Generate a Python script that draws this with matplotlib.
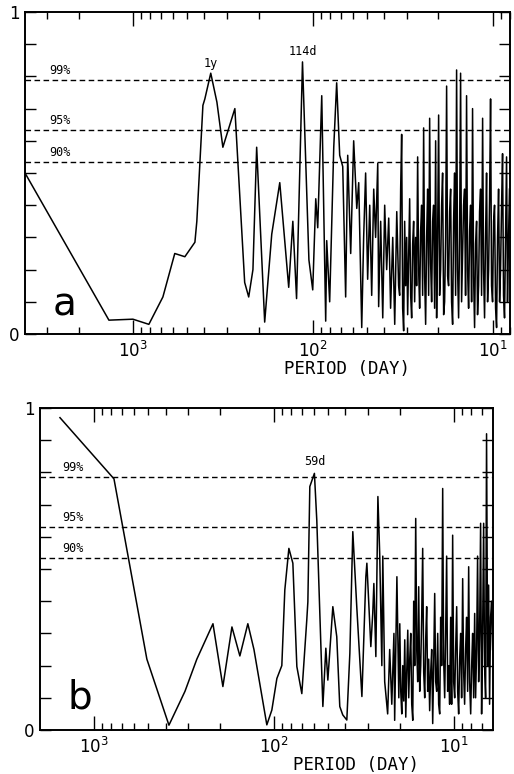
import matplotlib
matplotlib.use('Agg')
import matplotlib.pyplot as plt
import numpy as np
from matplotlib.ticker import LogLocator, NullFormatter

# panel a: period (day) and normalised power
period_a = [3980, 1359, 1000, 815, 681, 585, 514, 452, 441, 408, 398, 369, 341, 316, 271,
            239, 227, 215, 205, 185, 169, 152.5, 136, 129, 123, 114, 105, 100, 96.2, 93.8,
            89.1, 84.7, 83.6, 80.5, 76.4, 73.6,
            70.8, 68.1, 65.6, 63.9, 61.5, 59.2, 56.9, 55.5, 53.4, 52.1, 50.8, 49.5, 48.2, 47.0,
            45.8, 44.7, 43.5, 43.0, 41.9, 40.8, 39.8, 38.8, 37.8, 36.9, 35.9, 35.0, 34.1, 33.3,
            32.86, 32.44, 32.03, 31.62, 31.22, 30.82, 30.43, 30.04, 29.66, 29.28,
            28.91, 28.54, 28.18, 27.82, 27.47, 27.12, 26.78, 26.44, 26.10, 25.77,
            25.44, 25.12, 24.80, 24.48, 24.17, 23.86, 23.56, 23.26, 22.96, 22.67,
            22.38, 22.10, 21.82, 21.54, 21.27, 21.00, 20.73, 20.47, 20.21, 19.95,
            19.70, 19.45, 19.20, 18.96, 18.71, 18.48, 18.24, 18.01, 17.78, 17.56,
            17.33, 17.11, 16.90, 16.68, 16.47, 16.26, 16.05, 15.85, 15.65, 15.45,
            15.25, 15.06, 14.87, 14.68, 14.49, 14.31, 14.13, 13.95, 13.77, 13.59,
            13.42, 13.25, 13.08, 12.92, 12.75, 12.59, 12.43, 12.27, 12.12, 11.96,
            11.81, 11.66, 11.51, 11.36, 11.22, 11.08, 10.94, 10.80, 10.66, 10.52,
            10.39, 10.26, 10.13, 10.00, 9.87, 9.75, 9.62, 9.50, 9.38, 9.26,
            9.14, 9.03, 8.91, 8.80, 8.69, 8.58, 8.47, 8.36, 8.26, 8.15,
            8.05]
power_a = [0.50, 0.043, 0.046, 0.03, 0.115, 0.25, 0.24, 0.285, 0.35, 0.71, 0.73, 0.81, 0.72, 0.58, 0.70,
           0.16, 0.115, 0.20, 0.58, 0.037, 0.31, 0.47, 0.145, 0.35, 0.11, 0.845, 0.23, 0.137, 0.42, 0.33,
           0.74, 0.04, 0.29, 0.10, 0.58, 0.78,
           0.555, 0.52, 0.115, 0.555, 0.25, 0.60, 0.39, 0.47, 0.02, 0.30, 0.50, 0.17, 0.40, 0.12,
           0.45, 0.30, 0.53, 0.085, 0.35, 0.05, 0.40, 0.20, 0.36, 0.08, 0.30, 0.03, 0.38, 0.15,
           0.12, 0.45, 0.62, 0.08, 0.01, 0.35, 0.15, 0.30, 0.06, 0.25,
           0.42, 0.12, 0.05, 0.28, 0.35, 0.10, 0.30, 0.15, 0.55, 0.20,
           0.08, 0.32, 0.40, 0.12, 0.64, 0.18, 0.03, 0.30, 0.45, 0.12,
           0.67, 0.22, 0.10, 0.35, 0.40, 0.08, 0.60, 0.05, 0.30, 0.68,
           0.12, 0.20, 0.40, 0.50, 0.06, 0.10, 0.30, 0.77, 0.18, 0.15,
           0.38, 0.45, 0.10, 0.03, 0.35, 0.50, 0.12, 0.82, 0.20, 0.05,
           0.30, 0.81, 0.10, 0.25, 0.40, 0.45, 0.12, 0.74, 0.20, 0.08,
           0.32, 0.40, 0.10, 0.70, 0.18, 0.02, 0.28, 0.35, 0.06, 0.15,
           0.38, 0.45, 0.12, 0.67, 0.20, 0.05, 0.30, 0.50, 0.10, 0.20,
           0.42, 0.73, 0.15, 0.10, 0.35, 0.40, 0.08, 0.02, 0.30, 0.45,
           0.10, 0.20, 0.40, 0.56, 0.12, 0.05, 0.30, 0.55, 0.10, 0.30,
           0.45]

# panel b
period_b = [1545, 774, 508, 383, 312, 268, 218, 192, 171, 154.5, 139.5, 129, 109.4, 102.6, 96.2,
            90.3, 86.9, 82.5, 78.4, 74.5, 69.9, 65.6, 64.7, 63.1, 59.5, 57.7, 53.4, 51.4, 50.1,
            47.0, 44.7, 43.0, 41.4, 39.3, 37.8, 36.4, 34.6, 32.4, 30.8, 30.4, 28.9, 28.2, 27.8,
            27.1, 26.4, 25.8,
            25.1, 24.8, 24.2, 23.3, 22.7, 22.1, 21.5, 21.3, 20.7, 20.2,
            19.95, 19.70, 19.45, 19.20, 18.96, 18.72, 18.48, 18.25, 18.01, 17.79,
            17.56, 17.34, 17.12, 16.90, 16.69, 16.48, 16.27, 16.06, 15.86, 15.66,
            15.46, 15.26, 15.07, 14.88, 14.69, 14.50, 14.32, 14.14, 13.96, 13.78,
            13.61, 13.43, 13.26, 13.09, 12.93, 12.76, 12.60, 12.44, 12.28, 12.13,
            11.97, 11.82, 11.67, 11.52, 11.38, 11.23, 11.09, 10.95, 10.81, 10.67,
            10.54, 10.40, 10.27, 10.14, 10.01, 9.88, 9.76, 9.63, 9.51, 9.39,
            9.27, 9.15, 9.04, 8.92, 8.81, 8.70, 8.59, 8.48, 8.37, 8.26,
            8.16, 8.05, 7.95, 7.85, 7.75, 7.65, 7.56, 7.46, 7.37, 7.27,
            7.18, 7.09, 7.00, 6.91, 6.82, 6.74, 6.65, 6.57, 6.48, 6.40,
            6.32, 6.24, 6.16, 6.08]
power_b = [0.97, 0.78, 0.22, 0.015, 0.12, 0.22, 0.33, 0.135, 0.32, 0.23, 0.33, 0.25, 0.016, 0.062, 0.16,
           0.20, 0.435, 0.564, 0.518, 0.197, 0.113, 0.342, 0.398, 0.756, 0.797, 0.65, 0.073, 0.254, 0.155,
           0.383, 0.29, 0.073, 0.047, 0.031, 0.238, 0.616, 0.383, 0.104, 0.476, 0.518, 0.259, 0.362, 0.455,
           0.228, 0.725, 0.548,
           0.20, 0.54, 0.15, 0.05, 0.25, 0.08, 0.30, 0.03, 0.476, 0.10,
           0.33, 0.12, 0.05, 0.20, 0.09, 0.28, 0.04, 0.18, 0.31, 0.10,
           0.22, 0.30, 0.08, 0.03, 0.40, 0.20, 0.657, 0.25, 0.15, 0.445,
           0.12, 0.20, 0.35, 0.564, 0.18, 0.10, 0.28, 0.383, 0.12, 0.22,
           0.06, 0.18, 0.25, 0.02, 0.20, 0.424, 0.15, 0.12, 0.30, 0.08,
           0.05, 0.35, 0.20, 0.75, 0.22, 0.10, 0.30, 0.54, 0.12, 0.20,
           0.08, 0.35, 0.08, 0.605, 0.15, 0.10, 0.25, 0.383, 0.12, 0.05,
           0.22, 0.30, 0.10, 0.47, 0.18, 0.08, 0.25, 0.35, 0.12, 0.507,
           0.15, 0.05, 0.20, 0.30, 0.10, 0.362, 0.10, 0.25, 0.54, 0.15,
           0.30, 0.642, 0.05, 0.30, 0.642, 0.20, 0.10, 0.92, 0.20, 0.45,
           0.08, 0.35, 0.40, 0.25]

sig_labels = ['99%', '95%', '90%']
sig_a = [0.79, 0.635, 0.535]
sig_b = [0.785, 0.63, 0.535]

W, H = 514, 774
fig = plt.figure(figsize=(W / 100, H / 100), dpi=100)
ax_a = fig.add_axes([25 / W, (H - 334) / H, 485 / W, 322 / H])
ax_b = fig.add_axes([40 / W, (H - 730) / H, 453 / W, 322 / H])


def setup(ax, period, power, xlim, sig, letter, letter_pos, xlabel_x):
    ax.plot(period, power, color='black', lw=1.1)
    ax.set_xscale('log')
    ax.set_xlim(*xlim)
    ax.set_ylim(0, 1)
    for lev, lab in zip(sig, sig_labels):
        ax.axhline(lev, color='black', lw=1.0, ls=(0, (4, 2.5)))
        ax.annotate(lab, xy=(0.05, lev), xycoords=('axes fraction', 'data'),
                    xytext=(0, 2), textcoords='offset points', ha='left', va='bottom',
                    family='DejaVu Sans Mono', fontsize=8.5)
    ax.xaxis.set_major_locator(LogLocator(base=10))
    ax.xaxis.set_minor_locator(LogLocator(base=10, subs=np.arange(2, 10)))
    ax.xaxis.set_minor_formatter(NullFormatter())
    ax.set_yticks(np.arange(0, 1.01, 0.1))
    ax.set_yticklabels(['0'] + [''] * 9 + ['1'])
    ax.tick_params(axis='x', which='major', direction='in', length=10, width=1,
                   top=True, bottom=True, labelsize=12, pad=5)
    ax.tick_params(axis='x', which='minor', direction='in', length=5, width=1,
                   top=True, bottom=True)
    ax.tick_params(axis='y', direction='in', length=8, width=1,
                   left=True, right=True, labelsize=12, pad=4)
    for s in ax.spines.values():
        s.set_linewidth(1.4)
    ax.text(letter_pos[0], letter_pos[1], letter, transform=ax.transAxes,
            ha='center', va='center', fontsize=28)
    ax.text(xlabel_x, -0.109, 'PERIOD (DAY)', transform=ax.transAxes,
            ha='center', va='center', family='DejaVu Sans Mono', fontsize=12.5)


setup(ax_a, period_a, power_a, (3980, 8.0), sig_a, 'a', (0.082, 0.093), 0.664)
setup(ax_b, period_b, power_b, (1995, 6.05), sig_b, 'b', (0.088, 0.10), 0.698)

ax_a.annotate('1y', xy=(369, 0.81), xytext=(0, 2), textcoords='offset points',
              ha='center', va='bottom', family='DejaVu Sans Mono', fontsize=8.5)
ax_a.annotate('114d', xy=(114, 0.845), xytext=(0, 3), textcoords='offset points',
              ha='center', va='bottom', family='DejaVu Sans Mono', fontsize=8.5)
ax_b.annotate('59d', xy=(59.5, 0.797), xytext=(0, 4), textcoords='offset points',
              ha='center', va='bottom', family='DejaVu Sans Mono', fontsize=8.5)

fig.savefig('out.png', dpi=100)
